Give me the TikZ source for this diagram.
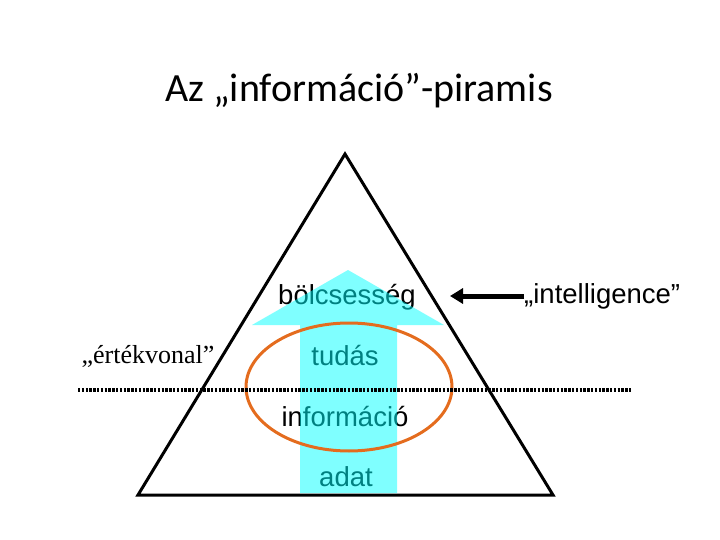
\documentclass[tikz,border=0pt]{standalone}
\usepackage{fontspec}
\setmainfont{Liberation Sans}
\newfontfamily\titlefont{Carlito}
\newfontfamily\timesfont{Liberation Serif}
\usetikzlibrary{arrows.meta}
\definecolor{ellorange}{RGB}{228,108,30}
\definecolor{cy}{RGB}{0,255,255}
\tikzset{
  lvl/.style={font=\fontsize{27.5}{32}\selectfont, inner sep=0pt, anchor=center},
}
\begin{document}
\begin{tikzpicture}[x=1pt,y=-1pt]
\useasboundingbox (0,0) rectangle (720,540);
% title
\node[font=\titlefont\fontsize{40}{46}\selectfont, inner sep=0pt] (title) at (359,91) {Az „információ”-piramis};
% triangle
\coordinate (apex) at (345,154);
\coordinate (bl) at (138,495);
\coordinate (br) at (553,495);
\draw[line width=3pt, line join=miter] (apex) -- (bl) -- (br) -- cycle;
% level texts
\node[lvl] (wis) at (347,297) {bölcsesség};
\node[lvl] (know) at (345,356) {tudás};
\node[lvl] (info) at (345,417) {információ};
\node[lvl] (data) at (346,477) {adat};
% transparent cyan arrow
\fill[cy, opacity=0.5] (300,493) -- (300,325) -- (252,325) -- (348,270) -- (444,325) -- (397,325) -- (397,493) -- cycle;
% ellipse
\draw[ellorange, line width=3pt] (349,387) ellipse [x radius=103, y radius=64];
% value line
\coordinate (vl) at (78,390);
\coordinate (vr) at (632,390);
\draw[line width=3.2pt, dash pattern=on 2.4pt off 1.4pt] (vl) -- (vr);
% labels
\node[font=\timesfont\fontsize{26}{30}\selectfont, inner sep=0pt] (val) at (148,356) {„értékvonal”};
\node[lvl, anchor=west] (intel) at (524,296) {„intelligence”};
\coordinate (tip) at (450,296);
\draw[line width=5pt, -{Triangle[length=13pt,width=15pt]}] (intel.west) -- (tip);
\end{tikzpicture}
\end{document}
